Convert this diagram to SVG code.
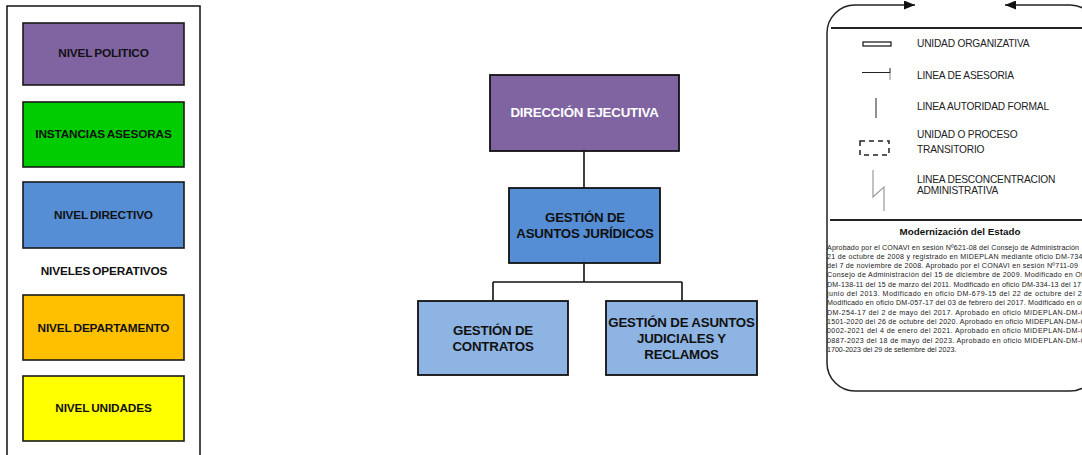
<svg xmlns="http://www.w3.org/2000/svg" width="1082" height="455" viewBox="0 0 1082 455">
  <style>
    .lvl { stroke: #1a1a1a; stroke-width: 1.6; }
    .lvl-t { font-family: "Liberation Sans", Arial, sans-serif; font-weight: bold; font-size: 11.8px; fill: #111; text-anchor: middle; letter-spacing: -0.15px; word-spacing: -1px; }
    .box { stroke: #111; stroke-width: 1.8; }
    .box-t { font-family: "Liberation Sans", Arial, sans-serif; font-weight: bold; font-size: 13.3px; fill: #111; text-anchor: middle; letter-spacing: -0.2px; }
    .conn { stroke: #111; stroke-width: 1.6; fill: none; }
    .frame { stroke: #222; stroke-width: 1.5; fill: none; }
    .leg-t { font-family: "Liberation Sans", Arial, sans-serif; font-size: 10.2px; fill: #222; letter-spacing: -0.2px; }
    .note { font-family: "Liberation Sans", Arial, sans-serif; font-size: 7.1px; fill: #222; }
  </style>
  <defs>
    <marker id="arrow" viewBox="0 0 11 9" refX="11" refY="4.5" markerWidth="11" markerHeight="9" markerUnits="userSpaceOnUse" orient="auto">
      <path d="M0,0 L11,4.5 L0,9 Z" fill="#111"/>
    </marker>
  </defs>

  <rect width="1082" height="455" fill="#ffffff"/>

  <!-- level key panel -->
  <g id="level-key">
    <rect x="7" y="6" width="193" height="460" fill="none" stroke="#111" stroke-width="1.5"/>
    <g id="nivel-politico">
      <rect class="lvl" x="23" y="23" width="161" height="62" fill="#8064A2"/>
      <text class="lvl-t" x="103.5" y="56.5">NIVEL POLITICO</text>
    </g>
    <g id="instancias-asesoras">
      <rect class="lvl" x="23" y="102" width="161" height="65" fill="#00CC00"/>
      <text class="lvl-t" x="103.5" y="138">INSTANCIAS ASESORAS</text>
    </g>
    <g id="nivel-directivo">
      <rect class="lvl" x="23" y="182" width="161" height="66" fill="#558ED5"/>
      <text class="lvl-t" x="103.5" y="218.5">NIVEL DIRECTIVO</text>
    </g>
    <text id="niveles-operativos" class="lvl-t" x="104" y="275">NIVELES OPERATIVOS</text>
    <g id="nivel-departamento">
      <rect class="lvl" x="23" y="295" width="161" height="65" fill="#FFC000"/>
      <text class="lvl-t" x="103.5" y="332">NIVEL DEPARTAMENTO</text>
    </g>
    <g id="nivel-unidades">
      <rect class="lvl" x="23" y="376" width="161" height="65" fill="#FFFF00"/>
      <text class="lvl-t" x="103.5" y="411.5">NIVEL UNIDADES</text>
    </g>
  </g>

  <!-- organisation chart connectors -->
  <g id="connectors">
    <line class="conn" x1="584" y1="151" x2="584" y2="188"/>
    <line class="conn" x1="584" y1="263" x2="584" y2="282"/>
    <line class="conn" x1="493" y1="282" x2="682" y2="282"/>
    <line class="conn" x1="493" y1="282" x2="493" y2="301"/>
    <line class="conn" x1="682" y1="282" x2="682" y2="301"/>
  </g>

  <g id="direccion-ejecutiva">
    <rect class="box" x="490" y="75" width="189" height="76" fill="#8064A2"/>
    <text class="box-t" x="584.5" y="116.5" style="fill:#ffffff">DIRECCIÓN EJECUTIVA</text>
  </g>
  <g id="asuntos-juridicos">
    <rect class="box" x="509" y="188" width="151" height="75" fill="#558ED5"/>
    <text class="box-t" x="585" y="221.5">GESTIÓN DE</text>
    <text class="box-t" x="585" y="238">ASUNTOS JURÍDICOS</text>
  </g>
  <g id="contratos">
    <rect class="box" x="418" y="301" width="150" height="74" fill="#8DB4E2"/>
    <text class="box-t" x="493" y="335">GESTIÓN DE</text>
    <text class="box-t" x="493" y="351">CONTRATOS</text>
  </g>
  <g id="judiciales-reclamos">
    <rect class="box" x="606" y="301" width="151" height="74" fill="#8DB4E2"/>
    <text class="box-t" x="681.5" y="327">GESTIÓN DE ASUNTOS</text>
    <text class="box-t" x="681.5" y="343">JUDICIALES Y</text>
    <text class="box-t" x="681.5" y="359">RECLAMOS</text>
  </g>

  <!-- symbol legend -->
  <g id="symbol-legend">
    <path class="frame" d="M827,33 A28,28 0 0 1 855,5 L915,5" marker-end="url(#arrow)"/>
    <path class="frame" d="M1098,33 A28,28 0 0 0 1070,5 L1005,5" marker-end="url(#arrow)"/>
    <path class="frame" d="M827,33 L827,363 A28,28 0 0 0 855,391 L1070,391 A28,28 0 0 0 1098,363"/>
    <line x1="831" y1="28" x2="1082" y2="28" stroke="#222" stroke-width="2"/>
    <line x1="830" y1="220" x2="1082" y2="220" stroke="#222" stroke-width="2"/>

    <g id="sym-unidad">
      <rect x="863" y="42" width="28" height="4" fill="#fff" stroke="#222" stroke-width="1.3"/>
      <text class="leg-t" x="917" y="46.8">UNIDAD ORGANIZATIVA</text>
    </g>
    <g id="sym-asesoria">
      <line x1="862" y1="72.5" x2="890" y2="72.5" stroke="#222" stroke-width="1"/>
      <line x1="890" y1="68" x2="890" y2="73" stroke="#222" stroke-width="1"/>
      <line x1="890" y1="73" x2="890" y2="80" stroke="#999" stroke-width="1.2"/>
      <text class="leg-t" x="917" y="78.8">LINEA DE ASESORIA</text>
    </g>
    <g id="sym-autoridad">
      <line x1="876" y1="98" x2="876" y2="118" stroke="#222" stroke-width="1"/>
      <text class="leg-t" x="917" y="110.3">LINEA AUTORIDAD FORMAL</text>
    </g>
    <g id="sym-transitorio">
      <rect x="860" y="141" width="29" height="14" fill="none" stroke="#222" stroke-width="1.5" stroke-dasharray="5,4"/>
      <text class="leg-t" x="917" y="137.8">UNIDAD O PROCESO</text>
      <text class="leg-t" x="917" y="153">TRANSITORIO</text>
    </g>
    <g id="sym-desconcentracion">
      <polyline points="873,170 873,197 884,187 884,211" fill="none" stroke="#999" stroke-width="1.2"/>
      <text class="leg-t" x="917" y="182.7">LINEA DESCONCENTRACION</text>
      <text class="leg-t" x="917" y="193.7">ADMINISTRATIVA</text>
    </g>

    <text x="960" y="235" text-anchor="middle" font-family="Liberation Sans, Arial, sans-serif" font-weight="bold" font-size="9.8" fill="#111">Modernización del Estado</text>

    <g id="approval-note" class="note">
      <text x="827" y="249.5" textLength="252" lengthAdjust="spacing">Aprobado por el CONAVI en sesión Nº621-08 del Consejo de Administración</text>
      <text x="827" y="258.8" textLength="258" lengthAdjust="spacing">21 de octubre de 2008 y registrado en MIDEPLAN mediante oficio DM-734-</text>
      <text x="827" y="268.1" textLength="251" lengthAdjust="spacing">del 7 de noviembre de 2008. Aprobado por el CONAVI en sesión Nº711-09</text>
      <text x="827" y="277.4" textLength="258" lengthAdjust="spacing">Consejo de Administración del 15 de diciembre de 2009. Modificado en Ofi</text>
      <text x="827" y="286.7" textLength="254" lengthAdjust="spacing">DM-138-11 del 15 de marzo del 2011. Modificado en oficio DM-334-13 del 17</text>
      <text x="827" y="296.0" textLength="259" lengthAdjust="spacing">junio del 2013. Modificado en oficio DM-679-15 del 22 de octubre del 20</text>
      <text x="827" y="305.3" textLength="258" lengthAdjust="spacing">Modificado en oficio DM-057-17 del 03 de febrero del 2017. Modificado en ofi</text>
      <text x="827" y="314.6" textLength="259" lengthAdjust="spacing">DM-254-17 del 2 de mayo del 2017. Aprobado en oficio MIDEPLAN-DM-O</text>
      <text x="827" y="323.9" textLength="259" lengthAdjust="spacing">1501-2020 del 26 de octubre del 2020. Aprobado en oficio MIDEPLAN-DM-O</text>
      <text x="827" y="333.2" textLength="259" lengthAdjust="spacing">0002-2021 del 4 de enero del 2021. Aprobado en oficio MIDEPLAN-DM-O</text>
      <text x="827" y="342.5" textLength="259" lengthAdjust="spacing">0887-2023 del 18 de mayo del 2023. Aprobado en oficio MIDEPLAN-DM-O</text>
      <text x="827" y="351.8">1700-2023 del 29 de setiembre del 2023.</text>
    </g>
  </g>
</svg>
